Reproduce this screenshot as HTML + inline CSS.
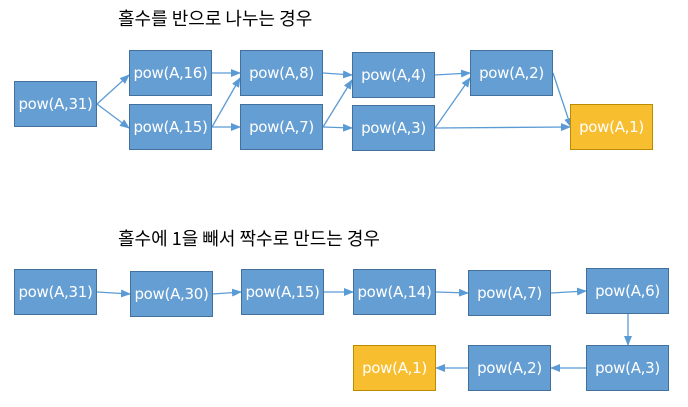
<!DOCTYPE html>
<html><head><meta charset="utf-8"><style>
body{margin:0;width:688px;height:407px;background:#fff;overflow:hidden;position:relative;font-family:"Liberation Sans","Noto Sans CJK KR",sans-serif}
.t{position:absolute;font-size:18px;color:#000;white-space:nowrap;font-family:"Noto Sans CJK KR","NanumGothic",sans-serif;line-height:1}
.b{position:absolute;box-sizing:border-box;width:83px;height:46px;background:#659ED3;border:1.5px solid #41719C;color:#fff;font-size:15px;display:flex;align-items:center;justify-content:center;font-family:"DejaVu Sans","Liberation Sans",sans-serif;letter-spacing:-0.3px}
.y{background:#F7BE30;border-color:#BC8C00}
svg{position:absolute;left:0;top:0}
</style></head><body>
<div class="t" style="left:118px;top:9px">홀수를 반으로 나누는 경우</div>
<div class="t" style="left:118px;top:229px">홀수에 1을 빼서 짝수로 만드는 경우</div>
<svg width="688" height="407">
<defs><marker id="a" markerWidth="10" markerHeight="8" refX="9" refY="4" orient="auto" markerUnits="userSpaceOnUse"><path d="M0,0L10,4L0,8z" fill="#5B9BD5"/></marker></defs>
<g stroke="#5B9BD5" stroke-width="1.3" fill="none" marker-end="url(#a)">
<line x1="97" y1="104" x2="129" y2="75"/>
<line x1="97" y1="104" x2="129" y2="128"/>
<line x1="212" y1="73" x2="240" y2="73"/>
<line x1="212" y1="127" x2="240" y2="78"/>
<line x1="212" y1="127" x2="240" y2="127"/>
<line x1="323" y1="73" x2="352" y2="75"/>
<line x1="323" y1="127" x2="352" y2="80"/>
<line x1="323" y1="127" x2="352" y2="128"/>
<line x1="435" y1="75" x2="470" y2="73"/>
<line x1="435" y1="128" x2="470" y2="78"/>
<line x1="553" y1="73" x2="571" y2="127"/>
<line x1="435" y1="128" x2="570" y2="127"/>
<line x1="97" y1="292" x2="130" y2="294"/>
<line x1="213" y1="294" x2="241" y2="292"/>
<line x1="324" y1="292" x2="353" y2="292"/>
<line x1="436" y1="292" x2="468" y2="293"/>
<line x1="551" y1="293" x2="586" y2="291"/>
<line x1="628" y1="314" x2="628" y2="345"/>
<line x1="586" y1="368" x2="551" y2="368"/>
<line x1="468" y1="368" x2="436" y2="368"/>
</g></svg>
<div class="b" style="left:14px;top:81px">pow(A,31)</div>
<div class="b" style="left:129px;top:50px">pow(A,16)</div>
<div class="b" style="left:129px;top:104px">pow(A,15)</div>
<div class="b" style="left:240px;top:50px">pow(A,8)</div>
<div class="b" style="left:240px;top:104px">pow(A,7)</div>
<div class="b" style="left:352px;top:52px">pow(A,4)</div>
<div class="b" style="left:352px;top:105px">pow(A,3)</div>
<div class="b" style="left:470px;top:50px">pow(A,2)</div>
<div class="b y" style="left:570px;top:104px">pow(A,1)</div>
<div class="b" style="left:14px;top:269px">pow(A,31)</div>
<div class="b" style="left:130px;top:271px">pow(A,30)</div>
<div class="b" style="left:241px;top:269px">pow(A,15)</div>
<div class="b" style="left:353px;top:269px">pow(A,14)</div>
<div class="b" style="left:468px;top:270px">pow(A,7)</div>
<div class="b" style="left:586px;top:268px">pow(A,6)</div>
<div class="b y" style="left:353px;top:345px">pow(A,1)</div>
<div class="b" style="left:468px;top:345px">pow(A,2)</div>
<div class="b" style="left:586px;top:345px">pow(A,3)</div>
</body></html>
